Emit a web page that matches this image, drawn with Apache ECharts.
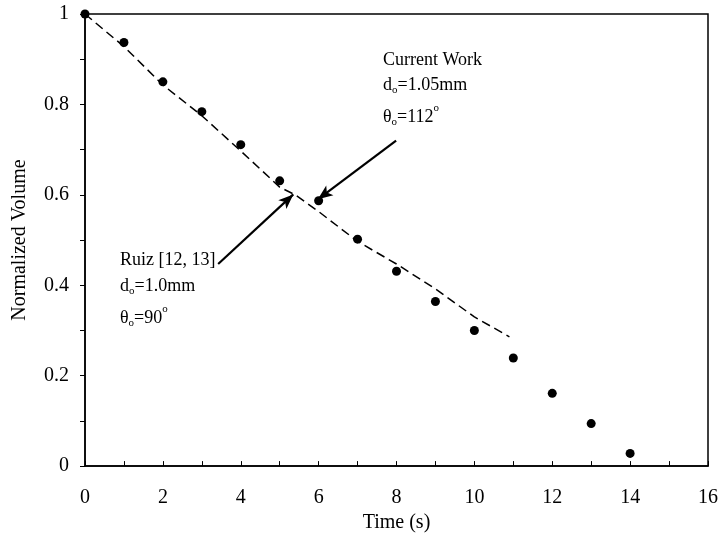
<!DOCTYPE html>
<html><head><meta charset="utf-8">
<script src="https://cdn.jsdelivr.net/npm/echarts@6/dist/echarts.min.js"></script>
<style>html,body{margin:0;padding:0;background:#fff}#c{width:727px;height:538px}</style>
</head><body><div id="c"></div>
<script>
var currentTime = [0,1,2,3,4,5,6,7,8,9,10,11,12,13,14];
var currentVol = [1.0,0.937,0.850,0.784,0.711,0.631,0.587,0.502,0.431,0.364,0.300,0.239,0.161,0.094,0.028];
var ruizTime = [0,1,2,3,4,5,5.4,6,7,8,9,10,10.9];
var ruizVol = [1.0,0.928,0.843,0.775,0.697,0.617,0.600,0.563,0.497,0.447,0.392,0.330,0.286];
var arrowCurrent = [[7.99,0.720],[5.98,0.590]];
var arrowRuiz = [[3.42,0.447],[5.35,0.601]];
var xTicks = {min:0,max:16,interval:2};
var yTicks = {min:0,max:1,interval:0.2};

var font = 'Liberation Serif';
var chart = echarts.init(document.getElementById('c'));
var rich = {
  n:{fontFamily:font,fontSize:18,color:'#000'},
  s:{fontFamily:font,fontSize:11,color:'#000',verticalAlign:'bottom',padding:[0,0,-2,0]},
  u:{fontFamily:font,fontSize:11,color:'#000',verticalAlign:'top',padding:[-5,0,0,0]}
};
function txt(x,y,s){return {type:'text',left:x,top:y,style:{text:s,rich:rich,font:'18px '+font,fill:'#000'}};}
chart.setOption({
  animation:false,
  grid:{left:85,right:19,top:14,bottom:69,show:true,borderColor:'#000',borderWidth:1.5},
  xAxis:{type:'value',min:xTicks.min,max:xTicks.max,interval:xTicks.interval,
    name:'Time (s)',nameLocation:'middle',nameGap:44,
    nameTextStyle:{fontFamily:font,fontSize:20,color:'#000'},
    axisLine:{lineStyle:{color:'#000',width:1.5}},
    axisTick:{inside:true,length:5,lineStyle:{color:'#000'}},
    minorTick:{show:true,splitNumber:2,length:5,lineStyle:{color:'#000'}},
    axisLabel:{fontFamily:font,fontSize:20,color:'#000',margin:22},
    splitLine:{show:false}},
  yAxis:{type:'value',min:yTicks.min,max:yTicks.max,interval:yTicks.interval,
    name:'Normalized Volume',nameLocation:'middle',nameGap:55,
    nameTextStyle:{fontFamily:font,fontSize:20,color:'#000'},
    axisLine:{lineStyle:{color:'#000',width:1.5}},
    axisTick:{inside:false,length:5,lineStyle:{color:'#000'}},
    minorTick:{show:true,splitNumber:2,length:5,lineStyle:{color:'#000'}},
    axisLabel:{fontFamily:font,fontSize:20,color:'#000',margin:16,
      formatter:function(v){return v===0?'0':v===1?'1':String(Math.round(v*10)/10);}},
    splitLine:{show:false}},
  series:[
    {type:'line',data:ruizTime.map(function(t,i){return [t,ruizVol[i]];}),showSymbol:false,
     lineStyle:{color:'#000',width:1.5,type:[9,5]},z:2},
    {type:'scatter',data:currentTime.map(function(t,i){return [t,currentVol[i]];}),
     symbol:'circle',symbolSize:9,itemStyle:{color:'#000',opacity:1},z:3,
     markLine:{silent:true,symbol:['none','arrow'],symbolSize:[9,15],label:{show:false},
       lineStyle:{color:'#000',width:2.2,type:'solid',opacity:1},
       data:[
         [{coord:arrowCurrent[0]},{coord:arrowCurrent[1]}],
         [{coord:arrowRuiz[0]},{coord:arrowRuiz[1]}]
       ]}}
  ],
  graphic:[
    txt(383,51,'Current Work'),
    txt(383,76,'d{s|o}=1.05mm'),
    txt(383,103,'θ{s|o}=112{u|o}'),
    txt(120,251,'Ruiz [12, 13]'),
    txt(120,277,'d{s|o}=1.0mm'),
    txt(120,304,'θ{s|o}=90{u|o}')
  ]
});
</script></body></html>
